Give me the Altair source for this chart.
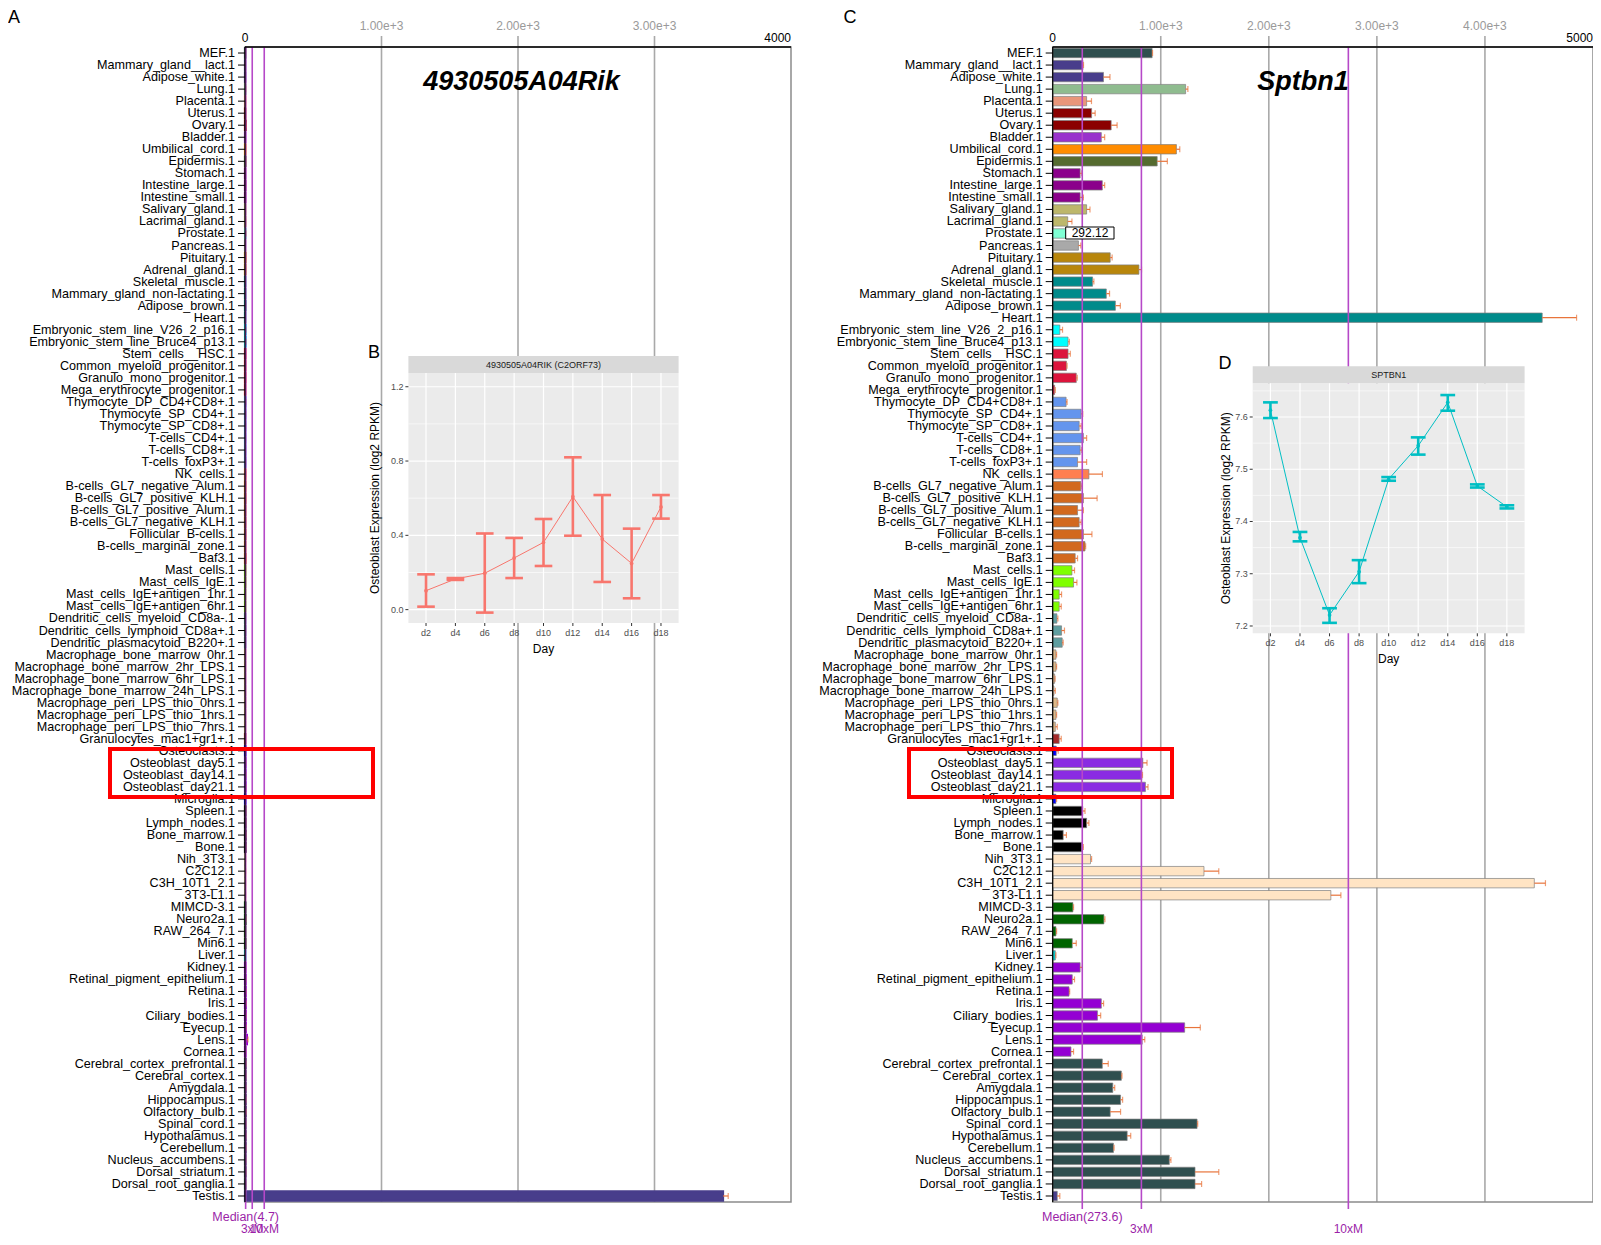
import altair as alt
import pandas as pd

# ---------------- data ----------------
categories = [
    "MEF.1", "Mammary_gland__lact.1", "Adipose_white.1", "Lung.1", "Placenta.1",
    "Uterus.1", "Ovary.1", "Bladder.1", "Umbilical_cord.1", "Epidermis.1",
    "Stomach.1", "Intestine_large.1", "Intestine_small.1", "Salivary_gland.1", "Lacrimal_gland.1",
    "Prostate.1", "Pancreas.1", "Pituitary.1", "Adrenal_gland.1", "Skeletal_muscle.1",
    "Mammary_gland_non-lactating.1", "Adipose_brown.1", "Heart.1", "Embryonic_stem_line_V26_2_p16.1", "Embryonic_stem_line_Bruce4_p13.1",
    "Stem_cells__HSC.1", "Common_myeloid_progenitor.1", "Granulo_mono_progenitor.1", "Mega_erythrocyte_progenitor.1", "Thymocyte_DP_CD4+CD8+.1",
    "Thymocyte_SP_CD4+.1", "Thymocyte_SP_CD8+.1", "T-cells_CD4+.1", "T-cells_CD8+.1", "T-cells_foxP3+.1",
    "NK_cells.1", "B-cells_GL7_negative_Alum.1", "B-cells_GL7_positive_KLH.1", "B-cells_GL7_positive_Alum.1", "B-cells_GL7_negative_KLH.1",
    "Follicular_B-cells.1", "B-cells_marginal_zone.1", "Baf3.1", "Mast_cells.1", "Mast_cells_IgE.1",
    "Mast_cells_IgE+antigen_1hr.1", "Mast_cells_IgE+antigen_6hr.1", "Dendritic_cells_myeloid_CD8a-.1", "Dendritic_cells_lymphoid_CD8a+.1", "Dendritic_plasmacytoid_B220+.1",
    "Macrophage_bone_marrow_0hr.1", "Macrophage_bone_marrow_2hr_LPS.1", "Macrophage_bone_marrow_6hr_LPS.1", "Macrophage_bone_marrow_24h_LPS.1", "Macrophage_peri_LPS_thio_0hrs.1",
    "Macrophage_peri_LPS_thio_1hrs.1", "Macrophage_peri_LPS_thio_7hrs.1", "Granulocytes_mac1+gr1+.1", "Osteoclasts.1", "Osteoblast_day5.1",
    "Osteoblast_day14.1", "Osteoblast_day21.1", "Microglia.1", "Spleen.1", "Lymph_nodes.1",
    "Bone_marrow.1", "Bone.1", "Nih_3T3.1", "C2C12.1", "C3H_10T1_2.1",
    "3T3-L1.1", "MIMCD-3.1", "Neuro2a.1", "RAW_264_7.1", "Min6.1",
    "Liver.1", "Kidney.1", "Retinal_pigment_epithelium.1", "Retina.1", "Iris.1",
    "Ciliary_bodies.1", "Eyecup.1", "Lens.1", "Cornea.1", "Cerebral_cortex_prefrontal.1",
    "Cerebral_cortex.1", "Amygdala.1", "Hippocampus.1", "Olfactory_bulb.1", "Spinal_cord.1",
    "Hypothalamus.1", "Cerebellum.1", "Nucleus_accumbens.1", "Dorsal_striatum.1", "Dorsal_root_ganglia.1",
    "Testis.1",
]

gene_a = "4930505A04Rik"
gene_c = "Sptbn1"

rik_mean = [
    3.1, 2.0, 2.4, 4.2, 3.0, 2.2, 5.1, 2.6, 3.3, 4.0,
    2.1, 3.2, 2.5, 2.8, 3.6, 6.2, 2.3, 4.4, 3.7, 2.4,
    2.6, 3.9, 2.2, 5.5, 6.1, 3.4, 2.7, 3.1, 2.3, 4.6,
    3.8, 3.5, 3.2, 2.9, 3.4, 4.1, 3.3, 3.6, 2.8, 3.0,
    3.5, 2.6, 4.8, 3.2, 3.0, 2.5, 2.4, 2.7, 3.1, 2.6,
    2.2, 2.1, 2.0, 2.3, 2.4, 2.2, 2.1, 2.5, 3.2, 4.7,
    4.9, 5.3, 3.4, 3.6, 3.8, 4.5, 4.2, 3.1, 3.3, 2.9,
    3.0, 3.4, 5.2, 2.8, 4.1, 2.4, 3.5, 4.8, 5.6, 6.4,
    5.7, 6.6, 13.8, 4.3, 5.4, 4.7, 5.2, 5.5, 6.3, 4.6,
    5.1, 5.4, 4.4, 4.9, 3.6, 3502,
]
rik_err = [
    0.8, 0.5, 0.6, 1.0, 0.7, 0.5, 1.2, 0.6, 0.8, 1.0,
    0.5, 0.8, 0.6, 0.7, 0.9, 1.5, 0.6, 1.1, 0.9, 0.6,
    0.7, 1.0, 0.5, 1.4, 1.5, 0.8, 0.7, 0.8, 0.6, 1.1,
    0.9, 0.9, 0.8, 0.7, 0.8, 1.0, 0.8, 0.9, 0.7, 0.8,
    0.9, 0.6, 1.2, 0.8, 0.8, 0.6, 0.6, 0.7, 0.8, 0.6,
    0.5, 0.5, 0.5, 0.6, 0.6, 0.5, 0.5, 0.6, 0.8, 1.2,
    1.2, 1.3, 0.8, 0.9, 1.0, 1.1, 1.0, 0.8, 0.8, 0.7,
    0.8, 0.8, 1.3, 0.7, 1.0, 0.6, 0.9, 1.2, 1.4, 1.6,
    1.4, 1.7, 8.0, 1.1, 1.4, 1.2, 1.3, 1.4, 1.6, 1.2,
    1.3, 1.4, 1.1, 1.2, 0.9, 38,
]

sptbn1_mean = [
    920, 280, 470, 1230, 314, 360, 541, 450, 1145, 967,
    254, 459, 254, 314, 139, 292.12, 238, 532, 798, 369,
    496, 580, 4530, 66, 142, 142, 127, 218, 18, 124,
    263, 245, 284, 254, 230, 335, 260, 284, 230, 245,
    284, 299, 208, 178, 193, 60, 60, 39, 82, 88,
    30, 30, 18, 12, 42, 30, 24, 60, 33, 834,
    825, 858, 30, 278, 314, 97, 269, 350, 1400, 4457,
    2574, 187, 474, 30, 181, 24, 254, 181, 151, 450,
    414, 1221, 828, 169, 459, 635, 556, 628, 532, 1336,
    689, 562, 1079, 1317, 1317, 42,
]
sptbn1_err = [
    4, 5, 60, 21, 45, 33, 55, 31, 31, 94,
    15, 22, 30, 31, 39, 20, 22, 18, 24, 12,
    30, 46, 318, 25, 12, 21, 6, 9, 6, 9,
    15, 18, 30, 15, 84, 125, 9, 127, 54, 18,
    79, 6, 22, 24, 31, 22, 19, 9, 27, 9,
    6, 6, 4, 12, 6, 6, 18, 19, 18, 39,
    6, 24, 6, 21, 21, 30, 15, 10, 137, 103,
    93, 6, 9, 6, 37, 6, 21, 21, 6, 21,
    30, 145, 24, 24, 55, 6, 18, 19, 96, 6,
    33, 6, 15, 220, 61, 24,
]

axis_ends_a = [0, 4000]
axis_end_labels_a = ["0", "4000"]
grid_a = [1000, 2000, 3000]
grid_labels_a = ["1.00e+3", "2.00e+3", "3.00e+3"]
axis_ends_c = [0, 5000]
axis_end_labels_c = ["0", "5000"]
grid_c = [1000, 2000, 3000, 4000]
grid_labels_c = ["1.00e+3", "2.00e+3", "3.00e+3", "4.00e+3"]

median_a = [4.7, 53, 141]
median_a_labels = ["Median(4.7)", "3xM", "10xM"]
median_c = [273.6, 820.8, 2736]
median_c_labels = ["Median(273.6)", "3xM", "10xM"]
prostate_tip = "292.12"

days = ["d2", "d4", "d6", "d8", "d10", "d12", "d14", "d16", "d18"]
day_index = [1, 2, 3, 4, 5, 6, 7, 8, 9]
rik_day_mean = [0.102, 0.165, 0.196, 0.278, 0.362, 0.608, 0.380, 0.249, 0.553]
rik_day_lo = [0.016, 0.160, -0.016, 0.170, 0.235, 0.398, 0.149, 0.061, 0.490]
rik_day_hi = [0.190, 0.170, 0.410, 0.386, 0.488, 0.820, 0.617, 0.436, 0.617]
sptbn1_day_mean = [7.613, 7.369, 7.221, 7.304, 7.481, 7.545, 7.628, 7.468, 7.428]
sptbn1_day_lo = [7.598, 7.362, 7.206, 7.282, 7.478, 7.528, 7.612, 7.465, 7.425]
sptbn1_day_hi = [7.628, 7.380, 7.234, 7.326, 7.485, 7.561, 7.642, 7.471, 7.431]
strip_b = "4930505A04RIK (C2ORF73)"
strip_d = "SPTBN1"
b_ydomain = [-0.072, 1.274]
b_yticks = [0.0, 0.4, 0.8, 1.2]
b_yminor = [0.2, 0.6, 1.0]
d_ydomain = [7.186, 7.6645]
d_yticks = [7.2, 7.3, 7.4, 7.5, 7.6]
d_yminor = [7.25, 7.35, 7.45, 7.55, 7.65]
y_title = "Osteoblast Expression (log2 RPKM)"
x_title = "Day"

# ---------------- styles ----------------
color_runs = [
    ("#2F4F4F", 1), ("#483D8B", 2), ("#8FBC8F", 1), ("#E9967A", 1), ("#8B0000", 2),
    ("#9932CC", 1), ("#FF8C00", 1), ("#556B2F", 1), ("#8B008B", 3), ("#BDB76B", 2),
    ("#7FFFD4", 1), ("#A9A9A9", 1), ("#B8860B", 2), ("#008B8B", 4), ("#00FFFF", 2),
    ("#DC143C", 4), ("#6495ED", 6), ("#FF7F50", 1), ("#D2691E", 7), ("#7FFF00", 4),
    ("#5F9EA0", 3), ("#DEB887", 7), ("#A52A2A", 1), ("#0000FF", 1), ("#8A2BE2", 3),
    ("#0000FF", 1), ("#000000", 4), ("#FFE4C4", 4), ("#006400", 4), ("#00CED1", 1),
    ("#9400D3", 8), ("#2F4F4F", 11), ("#483D8B", 1),
]
bar_colors = [c for c, n in color_runs for _ in range(n)]

FONT = "Liberation Sans"
W, H = 1348, 1155
A_RANGE = [0, 546]
C_RANGE = [807.7, 1348]
GRID = "#A9A9A9"
ORANGE = "#E8743B"
MED_LINE = "#B648C8"
MED_TEXT = "#9B1FA8"
ONE = pd.DataFrame({"k": [0]})


def main_panel(mean, err, xmax, xr, ends, end_labels, grid_vals, grid_labels, med_vals, med_labels,
               bar_stroke_w, color_stroke):
    df = pd.DataFrame({"cat": categories, "v": mean, "e": err})
    xs = alt.Scale(domain=[0, xmax], range=xr, nice=False, zero=False)
    ys = alt.Scale(domain=categories, range=[0, H], paddingInner=0.22, paddingOuter=0.11)
    cs = alt.Scale(domain=categories, range=bar_colors)
    x0, x1 = xr
    gdf = pd.DataFrame({"v": grid_vals, "lab": grid_labels})
    grid = alt.Chart(gdf).mark_rule(color=GRID, strokeWidth=1.6).encode(
        x=alt.X("v:Q", scale=xs, axis=None), y=alt.value(-11), y2=alt.value(H))
    glab = alt.Chart(gdf).mark_text(color="#9A9A9A", fontSize=12, baseline="middle").encode(
        x=alt.X("v:Q", scale=xs, axis=None), y=alt.value(-21), text="lab:N")
    edf = pd.DataFrame({"v": ends, "lab": end_labels})
    elab0 = alt.Chart(edf.iloc[:1]).mark_text(color="black", fontSize=12, baseline="middle",
                                               align="center").encode(
        x=alt.X("v:Q", scale=xs, axis=None), y=alt.value(-9), text="lab:N")
    elab1 = alt.Chart(edf.iloc[1:]).mark_text(color="black", fontSize=12, baseline="middle",
                                               align="right").encode(
        x=alt.X("v:Q", scale=xs, axis=None), y=alt.value(-9), text="lab:N")
    frame = alt.Chart(ONE).mark_rect(fill="white", fillOpacity=0, stroke="#8C8C8C", strokeWidth=1.5).encode(
        x=alt.value(x0), x2=alt.value(x1), y=alt.value(0), y2=alt.value(H))
    top_line = alt.Chart(ONE).mark_rule(color="black", strokeWidth=1.5).encode(
        x=alt.value(x0), x2=alt.value(x1), y=alt.value(0))
    left_line = alt.Chart(ONE).mark_rule(color="black", strokeWidth=1.2).encode(
        x=alt.value(x0), y=alt.value(0), y2=alt.value(H))
    ylab = alt.Chart(df).mark_text(color="black", fontSize=12.6, align="right", baseline="middle").encode(
        y=alt.Y("cat:N", scale=ys, axis=None), x=alt.value(x0 - 10), text="cat:N")
    yticks = alt.Chart(df).mark_rule(color="black", strokeWidth=1).encode(
        y=alt.Y("cat:N", scale=ys, axis=None), x=alt.value(x0 - 7), x2=alt.value(x0))
    bar_enc = dict(
        y=alt.Y("cat:N", scale=ys, axis=None),
        x=alt.X("v:Q", scale=xs, axis=None),
        color=alt.Color("cat:N", scale=cs, legend=None))
    if color_stroke:
        bars = alt.Chart(df).mark_bar(strokeWidth=bar_stroke_w).encode(
            stroke=alt.Stroke("cat:N", scale=cs, legend=None), **bar_enc)
    else:
        bars = alt.Chart(df).mark_bar(stroke="#808080", strokeWidth=bar_stroke_w).encode(**bar_enc)
    ebase = alt.Chart(df).transform_calculate(hi="datum.v + datum.e")
    errs = ebase.mark_rule(color=ORANGE, strokeWidth=1.2).encode(
        y=alt.Y("cat:N", scale=ys, axis=None), x=alt.X("v:Q", scale=xs, axis=None), x2="hi:Q")
    caps = ebase.mark_tick(orient="vertical", color=ORANGE, size=6, thickness=1.2).encode(
        y=alt.Y("cat:N", scale=ys, axis=None), x=alt.X("hi:Q", scale=xs, axis=None))
    mdf = pd.DataFrame({"v": med_vals, "lab": med_labels})
    med = alt.Chart(mdf).mark_rule(color=MED_LINE, strokeWidth=1.6).encode(
        x=alt.X("v:Q", scale=xs, axis=None), y=alt.value(0), y2=alt.value(1162))
    mlab1 = alt.Chart(mdf.iloc[:1]).mark_text(color=MED_TEXT, fontSize=12.5, baseline="alphabetic").encode(
        x=alt.X("v:Q", scale=xs, axis=None), y=alt.value(1174), text="lab:N")
    mlab2 = alt.Chart(mdf.iloc[1:]).mark_text(color=MED_TEXT, fontSize=12, baseline="alphabetic").encode(
        x=alt.X("v:Q", scale=xs, axis=None), y=alt.value(1186), text="lab:N")
    return alt.layer(grid, glab, elab0, elab1, frame, bars, errs, caps, med, top_line, left_line,
                     yticks, ylab, mlab1, mlab2)


def inset(mean, lo, hi, color, strip_text, x0, x1, y0, y1, ydom, yticks, yminor, cap, title_gap):
    df = pd.DataFrame({"idx": day_index, "day": days, "m": mean, "lo": lo, "hi": hi})
    xs = alt.Scale(domain=[0.4, 9.6], range=[x0, x1], nice=False, zero=False)
    ys = alt.Scale(domain=ydom, range=[y1, y0], nice=False, zero=False)
    strip_h = 17
    bg = alt.Chart(ONE).mark_rect(color="#EBEBEB").encode(
        x=alt.value(x0), x2=alt.value(x1), y=alt.value(y0), y2=alt.value(y1))
    strip = alt.Chart(ONE).mark_rect(color="#D9D9D9").encode(
        x=alt.value(x0), x2=alt.value(x1), y=alt.value(y0 - strip_h), y2=alt.value(y0))
    stxt = alt.Chart(ONE).mark_text(fontSize=9, color="#1A1A1A", baseline="middle").encode(
        x=alt.value((x0 + x1) / 2), y=alt.value(y0 - strip_h / 2), text=alt.value(strip_text))
    minor = alt.Chart(pd.DataFrame({"v": yminor})).mark_rule(color="white", strokeWidth=0.6).encode(
        y=alt.Y("v:Q", scale=ys, axis=None), x=alt.value(x0), x2=alt.value(x1))
    tdf = pd.DataFrame({"v": yticks})
    major = alt.Chart(tdf).mark_rule(color="white", strokeWidth=1.2).encode(
        y=alt.Y("v:Q", scale=ys, axis=None), x=alt.value(x0), x2=alt.value(x1))
    xgrid = alt.Chart(df).mark_rule(color="white", strokeWidth=1.2).encode(
        x=alt.X("idx:Q", scale=xs, axis=None), y=alt.value(y0), y2=alt.value(y1))
    ebar = alt.Chart(df).mark_rule(color=color, strokeWidth=2.6).encode(
        x=alt.X("idx:Q", scale=xs, axis=None), y=alt.Y("lo:Q", scale=ys, axis=None), y2="hi:Q")
    cbase = alt.Chart(df).transform_calculate(c0=f"datum.idx - {cap}", c1=f"datum.idx + {cap}")
    cap_lo = cbase.mark_rule(color=color, strokeWidth=2.6).encode(
        x=alt.X("c0:Q", scale=xs, axis=None), x2="c1:Q", y=alt.Y("lo:Q", scale=ys, axis=None))
    cap_hi = cbase.mark_rule(color=color, strokeWidth=2.6).encode(
        x=alt.X("c0:Q", scale=xs, axis=None), x2="c1:Q", y=alt.Y("hi:Q", scale=ys, axis=None))
    line = alt.Chart(df).mark_line(color=color, strokeWidth=1).encode(
        x=alt.X("idx:Q", scale=xs, axis=None), y=alt.Y("m:Q", scale=ys, axis=None))
    pts = alt.Chart(df).mark_circle(color=color, size=14, opacity=1).encode(
        x=alt.X("idx:Q", scale=xs, axis=None), y=alt.Y("m:Q", scale=ys, axis=None))
    # axes (ticks and labels through the inset scales)
    xtick = alt.Chart(df).mark_rule(color="#333333", strokeWidth=1).encode(
        x=alt.X("idx:Q", scale=xs, axis=None), y=alt.value(y1), y2=alt.value(y1 + 3))
    xlab = alt.Chart(df).mark_text(fontSize=9, color="#4D4D4D", baseline="middle").encode(
        x=alt.X("idx:Q", scale=xs, axis=None), y=alt.value(y1 + 10), text="day:N")
    ytick = alt.Chart(tdf).mark_rule(color="#333333", strokeWidth=1).encode(
        y=alt.Y("v:Q", scale=ys, axis=None), x=alt.value(x0 - 3), x2=alt.value(x0))
    ylab = alt.Chart(tdf).transform_calculate(lab="format(datum.v, '.1f')").mark_text(
        fontSize=9, color="#4D4D4D", align="right", baseline="middle").encode(
        y=alt.Y("v:Q", scale=ys, axis=None), x=alt.value(x0 - 5), text="lab:N")
    ytitle = alt.Chart(ONE).mark_text(fontSize=12, color="black", angle=270, baseline="middle").encode(
        x=alt.value(x0 - title_gap), y=alt.value((y0 + y1) / 2), text=alt.value(y_title))
    xtitle = alt.Chart(ONE).mark_text(fontSize=12, color="black", baseline="middle").encode(
        x=alt.value((x0 + x1) / 2), y=alt.value(y1 + 26), text=alt.value(x_title))
    return alt.layer(bg, strip, stxt, minor, major, xgrid, ebar, cap_lo, cap_hi, line, pts,
                     xtick, xlab, ytick, ylab, ytitle, xtitle)


def label(txt, x, y, size=18, **kw):
    return alt.Chart(ONE).mark_text(fontSize=size, baseline="middle", color="black", **kw).encode(
        x=alt.value(x), y=alt.value(y), text=alt.value(txt))


def box(x0, x1, y0, y1, stroke, width, fill_opacity=0):
    return alt.Chart(ONE).mark_rect(fill="white", fillOpacity=fill_opacity, stroke=stroke,
                                    strokeWidth=width).encode(
        x=alt.value(x0), x2=alt.value(x1), y=alt.value(y0), y2=alt.value(y1))


panel_a = main_panel(rik_mean, rik_err, 4000, A_RANGE, axis_ends_a, axis_end_labels_a, grid_a,
                     grid_labels_a, median_a, median_a_labels, 2.2, True)
panel_c = main_panel(sptbn1_mean, sptbn1_err, 5000, C_RANGE, axis_ends_c, axis_end_labels_c, grid_c,
                     grid_labels_c, median_c, median_c_labels, 0.7, False)
inset_b = inset(rik_day_mean, rik_day_lo, rik_day_hi, "#F8766D", strip_b,
                163.4, 433.6, 326, 576, b_ydomain, b_yticks, b_yminor, 0.3, 33)
inset_d = inset(sptbn1_day_mean, sptbn1_day_lo, sptbn1_day_hi, "#00BFC4", strip_d,
                1007.7, 1279.6, 336.3, 586.3, d_ydomain, d_yticks, d_yminor, 0.25, 27)

annotations = [
    label("A", -231, -29),
    label("C", 605, -29),
    label("B", 129, 306),
    label("D", 980, 317),
    label(gene_a, 276.5, 35, size=27, fontStyle="italic", fontWeight="bold"),
    label(gene_c, 1058, 35, size=27, fontStyle="italic", fontWeight="bold"),
    box(-135, 128, 702, 750, "#FF0000", 4),
    box(664, 927, 702, 750, "#FF0000", 4),
    box(820.7, 869, 180, 192, "black", 1, fill_opacity=1),
    label(prostate_tip, 845, 186, size=12),
]

chart = alt.layer(panel_a, panel_c, inset_b, inset_d, *annotations).resolve_scale(
    x="independent", y="independent", color="independent", stroke="independent"
).properties(
    width=W, height=H,
    padding={"left": 237, "top": 39, "right": 0, "bottom": 35},
    autosize=alt.AutoSizeParams(type="none"),
).configure_view(strokeWidth=0).configure_text(font=FONT)

chart.save("out.html", embed_options={"renderer": "svg", "actions": False})
